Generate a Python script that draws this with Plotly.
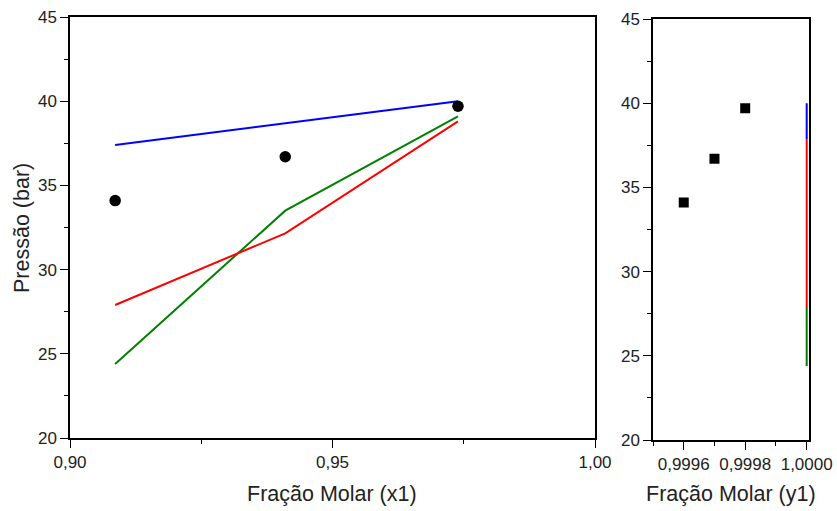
import plotly.graph_objects as go

# Experimental data
x1_exp = [0.9086, 0.9410, 0.9739]
P_exp = [34.1, 36.7, 39.7]
y1_exp = [0.9996, 0.9997, 0.9998]

# Model curves (P vs x1)
x1_model = [0.9086, 0.9410, 0.9739]
P_blue = [37.4, 38.7, 40.0]
P_red = [27.9, 32.15, 38.8]
P_green = [24.4, 33.5, 39.1]

# Model curves (P vs y1) — visible segments at y1 = 1.0000
y1_model = [1.0, 1.0]
P_blue_y = [37.85, 40.0]
P_red_y = [27.9, 37.85]
P_green_y = [24.4, 27.9]

FONT = "Liberation Sans, Arial, sans-serif"
W, H = 837, 511

fig = go.Figure()

for P, c in [(P_green, "#008000"), (P_red, "#ff0000"), (P_blue, "#0000ff")]:
    fig.add_trace(go.Scatter(x=x1_model, y=P, mode="lines", line=dict(color=c, width=2),
                             xaxis="x", yaxis="y", showlegend=False))
fig.add_trace(go.Scatter(x=x1_exp, y=P_exp, mode="markers",
                         marker=dict(color="black", size=11.5, symbol="circle"),
                         xaxis="x", yaxis="y", showlegend=False))

for P, c in [(P_green_y, "#008000"), (P_red_y, "#ff0000"), (P_blue_y, "#0000ff")]:
    fig.add_trace(go.Scatter(x=y1_model, y=P, mode="lines", line=dict(color=c, width=2),
                             xaxis="x2", yaxis="y2", showlegend=False))
fig.add_trace(go.Scatter(x=y1_exp, y=P_exp, mode="markers",
                         marker=dict(color="black", size=10, symbol="square"),
                         xaxis="x2", yaxis="y2", showlegend=False))

tickfont = dict(family=FONT, size=17, color="#222")
common = dict(showgrid=False, zeroline=False, showline=True, linecolor="black", linewidth=1.5,
              ticks="outside", ticklen=8, tickwidth=1.2, tickcolor="black", tickfont=tickfont,
              mirror=True, automargin=False)
minor_common = dict(ticks="outside", ticklen=4, tickcolor="black", tickwidth=1.2, showgrid=False)

fig.update_layout(
    template="none",
    width=W, height=H,
    margin=dict(l=0, r=0, t=0, b=0, pad=0),
    paper_bgcolor="white", plot_bgcolor="white",
    separators=",.",
    xaxis=dict(domain=[70 / W, 595 / W], anchor="y", range=[0.90, 1.00],
               tickvals=[0.90, 0.95, 1.00], tickformat=".2f",
               minor=dict(tickvals=[0.925, 0.975], **minor_common), **common),
    yaxis=dict(domain=[1 - 438 / H, 1 - 17 / H], anchor="x", range=[20, 45],
               tickvals=[20, 25, 30, 35, 40, 45],
               minor=dict(tickvals=[22.5, 27.5, 32.5, 37.5, 42.5], **minor_common), **common),
    xaxis2=dict(domain=[653 / W, 809.3 / W], anchor="y2", range=[0.9995, 1.0000085],
                tickvals=[0.9996, 0.9998, 1.0000], tickformat=".4f",
                minor=dict(tickvals=[0.9995, 0.9997, 0.9999], **minor_common), **common),
    yaxis2=dict(domain=[1 - 440 / H, 1 - 19 / H], anchor="x2", range=[20, 45],
                tickvals=[20, 25, 30, 35, 40, 45],
                minor=dict(tickvals=[22.5, 27.5, 32.5, 37.5, 42.5], **minor_common), **common),
)

titlefont = dict(family=FONT, size=21.5, color="#222")
fig.add_annotation(text="Fração Molar (x1)", x=332 / W, y=1 - 494 / H, xref="paper", yref="paper",
                   showarrow=False, font=titlefont, xanchor="center", yanchor="middle")
fig.add_annotation(text="Fração Molar (y1)", x=731 / W, y=1 - 494 / H, xref="paper", yref="paper",
                   showarrow=False, font=titlefont, xanchor="center", yanchor="middle")
fig.add_annotation(text="Pressão (bar)", x=22 / W, y=1 - 228 / H, xref="paper", yref="paper",
                   showarrow=False, font=titlefont, textangle=-90, xanchor="center", yanchor="middle")

fig.write_html("out.html", config={"displayModeBar": False},
               post_script="document.body.style.margin='0';document.body.style.overflow='hidden';")
